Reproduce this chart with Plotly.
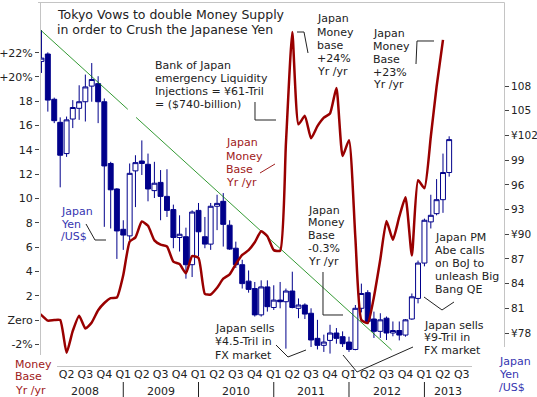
import plotly.graph_objects as go

# ---------------- data ----------------
months = ["2007-12", "2008-01", "2008-02", "2008-03", "2008-04", "2008-05", "2008-06", "2008-07",
          "2008-08", "2008-09", "2008-10", "2008-11", "2008-12", "2009-01", "2009-02", "2009-03",
          "2009-04", "2009-05", "2009-06", "2009-07", "2009-08", "2009-09", "2009-10", "2009-11",
          "2009-12", "2010-01", "2010-02", "2010-03", "2010-04", "2010-05", "2010-06", "2010-07",
          "2010-08", "2010-09", "2010-10", "2010-11", "2010-12", "2011-01", "2011-02", "2011-03",
          "2011-04", "2011-05", "2011-06", "2011-07", "2011-08", "2011-09", "2011-10", "2011-11",
          "2011-12", "2012-01", "2012-02", "2012-03", "2012-04", "2012-05", "2012-06", "2012-07",
          "2012-08", "2012-09", "2012-10", "2012-11", "2012-12", "2013-01", "2013-02", "2013-03",
          "2013-04", "2013-05"]
yen_open = [111.0, 111.9, 106.4, 103.6, 99.8, 104.0, 105.3, 106.1, 108.0, 108.3, 106.1, 98.6,
            95.5, 90.6, 89.8, 97.7, 98.9, 98.5, 95.3, 96.3, 94.6, 93.0, 89.6, 89.7,
            86.3, 92.9, 89.7, 88.8, 93.4, 94.0, 91.1, 88.3, 86.3, 84.3, 83.4, 80.2,
            83.6, 81.1, 82.0, 81.8, 83.1, 81.0, 81.4, 80.4, 77.35, 76.5, 77.1, 78.0,
            77.55, 76.9, 76.0, 81.0, 82.9, 79.7, 78.2, 79.8, 78.0, 78.3, 77.75, 79.7,
            82.2, 86.5, 91.5, 92.5, 94.2, 97.5]
yen_high = [114.8, 112.1, 106.6, 104.2, 104.3, 106.3, 108.1, 109.4, 110.8, 109.2, 106.5, 98.8,
            95.6, 91.7, 98.6, 99.6, 101.4, 99.8, 98.8, 97.8, 97.9, 93.6, 92.3, 90.8,
            92.9, 93.8, 92.1, 93.8, 94.8, 95.0, 91.7, 89.1, 86.9, 85.6, 84.2, 84.4,
            84.4, 83.8, 84.2, 83.4, 85.45, 82.2, 81.6, 81.0, 79.6, 77.8, 79.0, 78.6,
            78.2, 77.55, 81.4, 84.0, 83.2, 80.6, 80.4, 80.0, 79.4, 79.4, 79.7, 82.8,
            86.8, 91.9, 94.8, 96.7, 99.8, 101.9]
yen_low = [109.6, 104.9, 103.5, 95.7, 99.4, 102.9, 103.9, 103.7, 106.1, 103.5, 90.9, 90.7,
           87.0, 88.1, 89.3, 93.3, 97.2, 94.0, 94.4, 91.7, 92.1, 88.3, 87.9, 84.6,
           84.8, 87.3, 88.3, 88.1, 90.5, 88.5, 88.1, 85.9, 83.4, 82.9, 80.0, 80.0,
           80.6, 80.8, 81.0, 76.1, 81.0, 79.8, 79.7, 76.3, 76.0, 75.7, 75.5, 76.7,
           76.3, 75.7, 75.9, 80.5, 79.2, 77.4, 77.4, 77.15, 77.6, 77.1, 77.55, 79.6,
           81.6, 86.1, 90.7, 92.3, 92.6, 97.0]
yen_close = [111.4, 106.3, 103.8, 99.6, 103.9, 105.4, 106.1, 107.9, 108.8, 106.1, 98.3, 95.4,
             90.4, 89.9, 97.4, 98.7, 98.6, 95.5, 96.2, 94.6, 92.9, 89.6, 90.0, 86.3,
             92.7, 90.3, 88.8, 93.4, 93.75, 91.2, 88.2, 86.3, 84.0, 83.3, 80.2, 83.6,
             81.2, 82.0, 81.8, 83.1, 81.1, 81.4, 80.3, 77.15, 76.5, 76.9, 78.0, 77.35,
             76.7, 76.0, 81.0, 82.8, 79.4, 78.2, 79.6, 78.0, 78.3, 77.75, 79.6, 82.4,
             86.5, 91.7, 92.3, 94.2, 97.5, 101.5]

mb_months = ["2007-11"] + months[:-1]
mb_yoy = [0.8, 0.4, -0.05, 0.0, 0.0, -2.7, -0.9, 0.35, -0.7, -0.2, 0.8, 1.4, 1.8, 1.85,
          3.7, 6.45, 6.8, 8.1, 7.75, 6.55, 6.2, 6.05, 4.8, 4.6, 3.85, 5.25,
          5.1, 2.15, 2.1, 2.65, 3.4, 3.75, 4.6, 5.35, 5.75, 6.4, 7.3, 6.9,
          5.75, 5.7, 14.5, 23.7, 16.1, 16.8, 14.95, 15.95, 16.65, 17.0, 19.1, 13.5,
          14.8, 6.75, 0.0, -0.25, 1.9, 5.0, 8.15, 6.6, 8.5, 10.1, 5.3, 11.5,
          10.85, 15.1, 19.2, 23.05]

trend_dates = ["2007-11-12", "2009-01-23", None, "2009-03-04", "2012-07-26"]
trend_yen = [115.15, 105.18, None, 104.2, 75.93]

quarter_ticks = ["2008-04-01", "2008-07-01", "2008-10-01",
                 "2009-01-01", "2009-04-01", "2009-07-01", "2009-10-01",
                 "2010-01-01", "2010-04-01", "2010-07-01", "2010-10-01",
                 "2011-01-01", "2011-04-01", "2011-07-01", "2011-10-01",
                 "2012-01-01", "2012-04-01", "2012-07-01", "2012-10-01",
                 "2013-01-01", "2013-04-01", "2013-07-01"]
quarter_labels = ["Q2", "Q3", "Q4"] + ["Q1", "Q2", "Q3", "Q4"] * 4 + ["Q1", "Q2", "Q3"]
year_labels = ["2008", "2009", "2010", "2011", "2012", "2013"]
year_label_pos = ["2008-07-01", "2009-07-01", "2010-07-01", "2011-07-01", "2012-07-01", "2013-04-25"]
year_breaks = ["2009-01-01", "2010-01-01", "2011-01-01", "2012-01-01", "2013-01-01"]

yen_ticks = [78, 81, 84, 87, 90, 93, 96, 99, 102, 105, 108]
yen_ticktext = ["¥78", "81", "84", "87", "¥90", "93", "96", "99", "¥102", "105", "108"]
pct_ticks = [-2, 0, 2, 4, 6, 8, 10, 12, 14, 16, 18, 20, 22]
pct_ticktext = ["-2%", "Zero", "2", "4", "6", "8", "10", "12", "14", "16", "18", "+20%", "+22%"]

# ---------------- layout helpers ----------------
W, H = 537, 397
L, R, T, B = 40, 504, 2, 366
NAVY = "#00008b"
RED = "#990000"
TXT = "#222222"
REDTXT = "#a02020"
BLUETXT = "#3535b0"


def px(x):
    return (x - L) / (R - L)


def py(y):
    return (B - y) / (B - T)


fig = go.Figure()

fig.add_trace(go.Scatter(x=trend_dates, y=trend_yen, mode="lines", yaxis="y",
                         line=dict(color="#008000", width=0.8), hoverinfo="skip",
                         showlegend=False, connectgaps=False))

fig.add_trace(go.Candlestick(x=months, open=yen_open, high=yen_high, low=yen_low, close=yen_close,
                             yaxis="y", whiskerwidth=0,
                             increasing=dict(line=dict(color=NAVY, width=1), fillcolor="white"),
                             decreasing=dict(line=dict(color=NAVY, width=1), fillcolor=NAVY),
                             hoverinfo="skip", showlegend=False))

fig.add_trace(go.Scatter(x=mb_months, y=mb_yoy, mode="lines", yaxis="y2",
                         line=dict(color=RED, width=2.5, shape="spline", smoothing=0.5),
                         hoverinfo="skip", showlegend=False))

annotations = []


def block(lines, x, y0, color=TXT, size=11, dy=13):
    for i, s in enumerate(lines):
        annotations.append(dict(text=s, x=px(x), y=py(y0 + i * dy), xref="paper", yref="paper",
                                xanchor="left", yanchor="middle", showarrow=False,
                                font=dict(size=size, color=color)))


block(["Tokyo Vows to double Money Supply", "in order to Crush the Japanese Yen"], 55, 15,
      size=12.5, dy=14.3)
block(["Bank of Japan", "emergency Liquidity", "Injections = ¥61-Tril", "= ($740-billion)"], 153, 65)
block(["Japan", "Money", "base", "+24%", "Yr /yr"], 315, 19)
block(["Japan", "Money", "Base", "+23%", "Yr /yr"], 371, 33)
block(["Japan", "Money", "Base", "Yr /yr"], 224, 143, color=REDTXT)
block(["Japan", "Yen", "/US$"], 59, 212, color=BLUETXT, dy=12.5)
block(["Japan", "Money", "Base", "-0.3%", "Yr /yr"], 306, 210, dy=12.8)
block(["Japan sells", "¥4.5-Tril in", "FX market"], 213, 328, dy=13.5)
block(["Japan sells", "¥9-Tril in", "FX market"], 421.7, 325, dy=12.5)
block(["Japan PM", "Abe calls", "on BoJ to", "unleash Big", "Bang QE"], 433, 238, dy=12.8)
block(["Money", "Base", "Yr /yr"], 13, 364, color=REDTXT)
block(["Japan", "Yen", "/US$"], 497, 361, color=BLUETXT)

for lab, pos in zip(year_labels, year_label_pos):
    annotations.append(dict(text=lab, x=pos, y=py(391), xref="x", yref="paper",
                            xanchor="center", yanchor="middle", showarrow=False,
                            font=dict(size=11, color=TXT)))

shapes = []


def path(points, color=TXT, width=1):
    d = "M " + " L ".join(f"{px(a):.5f},{py(b):.5f}" for a, b in points)
    shapes.append(dict(type="path", path=d, xref="paper", yref="paper",
                       line=dict(color=color, width=width)))


# frame
FRAME = "#c4c4c4"
path([(38, 2.5), (504.5, 2.5)], FRAME)
path([(40.5, 2.5), (40.5, 355)], FRAME)
path([(504.5, 2.5), (504.5, 347)], FRAME)
path([(57, 366.5), (472, 366.5)], FRAME)

# connectors
path([(255, 102), (255, 120), (276, 120)])
path([(297, 32), (304, 32), (308, 53)])
path([(416, 64), (417, 41), (434, 41)])
path([(260, 173), (275, 164)], color=REDTXT)
path([(86, 224), (95, 240), (106, 240)])
path([(323, 272), (323, 315), (343, 315)])
path([(276, 345), (288, 357), (306, 350)])
path([(343, 355), (357, 372), (413, 347)])
path([(424, 297), (442, 310), (454, 302)])

for d in year_breaks:
    shapes.append(dict(type="line", x0=d, x1=d, xref="x", y0=py(382), y1=py(397), yref="paper",
                       line=dict(color=TXT, width=1)))

fig.update_layout(
    width=W, height=H,
    margin=dict(l=L, r=W - R, t=T, b=H - B, pad=0, autoexpand=False),
    paper_bgcolor="white", plot_bgcolor="white",
    font=dict(family="DejaVu Sans", size=11, color=TXT),
    showlegend=False,
    boxgap=0.1, boxgroupgap=0.05,
    xaxis=dict(type="date", range=["2007-11-24", "2014-01-22"], tickvals=quarter_ticks,
               ticktext=quarter_labels, ticks="", showgrid=False, zeroline=False, showline=False,
               rangeslider=dict(visible=False), tickfont=dict(size=11, color=TXT), tickangle=0,
               automargin=False),
    yaxis=dict(side="right", range=[73.99, 118.22], tickvals=yen_ticks, ticktext=yen_ticktext,
               ticks="outside", ticklen=4, tickcolor="#444", showgrid=False, zeroline=False,
               showline=False, tickfont=dict(size=10.5, color=TXT), automargin=False),
    yaxis2=dict(side="left", overlaying="y", range=[-3.786, 26.17], tickvals=pct_ticks,
                ticktext=pct_ticktext, ticks="outside", ticklen=4, tickcolor="#444",
                showgrid=False, zeroline=False, showline=False, tickfont=dict(size=11, color=TXT),
                automargin=False),
    annotations=annotations,
    shapes=shapes,
)

fig.write_html("out.html", config={"displayModeBar": False},
               post_script="document.body.style.margin='0px';document.body.style.padding='0px';")
